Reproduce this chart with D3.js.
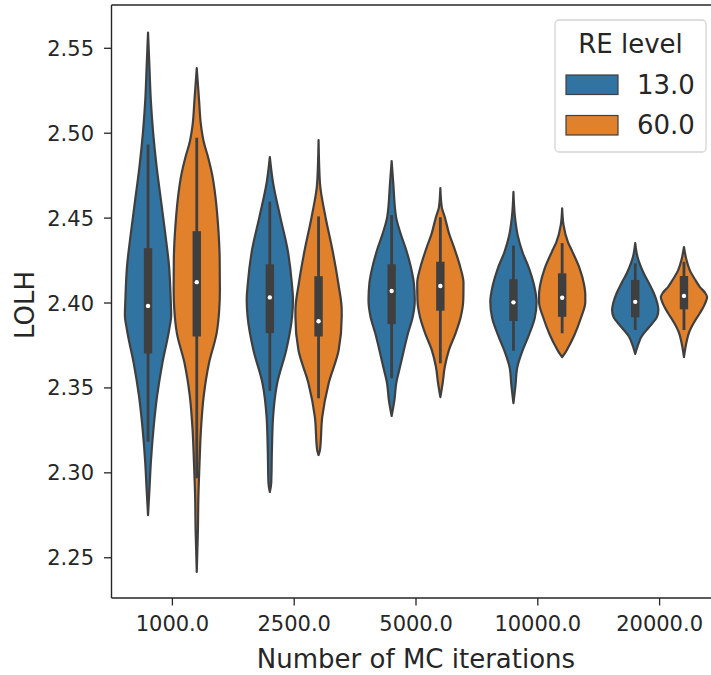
<!DOCTYPE html>
<html>
<head>
<meta charset="utf-8">
<script src="https://cdn.jsdelivr.net/npm/d3@7"></script>
<style>
  html, body { margin: 0; padding: 0; background: #ffffff; }
  svg { display: block; font-family: "DejaVu Sans", sans-serif; }
</style>
</head>
<body>
<svg id="chart" width="711" height="675"></svg>
<script>
// Categories and hue levels
const iterations = ["1000.0", "2500.0", "5000.0", "10000.0", "20000.0"];
const reLevels = ["13.0", "60.0"];
const yTicks = [2.25, 2.30, 2.35, 2.40, 2.45, 2.50, 2.55];

// Box summaries per iteration count: [whiskerLow, q1, median, q3, whiskerHigh]
const boxRE13 = [
  [2.318, 2.370, 2.398, 2.432, 2.493],
  [2.348, 2.382, 2.403, 2.4225, 2.4594],
  [2.3554, 2.3873, 2.4068, 2.4225, 2.4515],
  [2.3716, 2.3891, 2.4001, 2.4137, 2.4335],
  [2.3838, 2.3913, 2.4004, 2.4133, 2.4231]
];
const boxRE60 = [
  [2.2965, 2.380, 2.412, 2.442, 2.497],
  [2.3436, 2.380, 2.389, 2.4155, 2.4507],
  [2.3642, 2.3952, 2.4097, 2.424, 2.4502],
  [2.3819, 2.3916, 2.4028, 2.4172, 2.435],
  [2.3838, 2.396, 2.4039, 2.4156, 2.424]
];

// Density outlines per iteration count: [LOLH, relative density (peak = 1)]
const densityRE13 = [
  [[2.559,0],[2.539,.06],[2.519,.12],[2.500,.22],[2.480,.37],[2.460,.56],[2.441,.74],[2.421,.91],[2.4015,.98],[2.3926,1],[2.3838,.91],[2.3644,.62],[2.3449,.39],[2.3249,.23],[2.3055,.12],[2.2896,.06],[2.2748,0]],
  [[2.4857,0],[2.4704,.14],[2.4504,.45],[2.4309,.77],[2.4115,.95],[2.4015,1],[2.3915,.96],[2.372,.71],[2.3526,.32],[2.3326,.14],[2.3131,.09],[2.2937,.06],[2.2884,0]],
  [[2.4833,0],[2.4704,.07],[2.4504,.19],[2.4409,.38],[2.4309,.63],[2.4209,.83],[2.4115,.96],[2.4015,1],[2.3915,.91],[2.382,.71],[2.372,.53],[2.362,.36],[2.3526,.2],[2.3426,.12],[2.3332,0]],
  [[2.4651,0],[2.4498,.07],[2.4398,.18],[2.4297,.39],[2.4203,.67],[2.4103,.89],[2.4003,1],[2.3909,.92],[2.3809,.67],[2.3708,.37],[2.3614,.16],[2.3514,.09],[2.3408,0]],
  [[2.435,0],[2.4268,.1],[2.4233,.18],[2.4174,.36],[2.4115,.59],[2.4056,.8],[2.3997,.95],[2.3956,1],[2.3915,.94],[2.3856,.6],[2.3797,.26],[2.375,.12],[2.3697,0]]
];
const densityRE60 = [
  [[2.538,0],[2.519,.1],[2.5046,.18],[2.4947,.3],[2.485,.5],[2.475,.67],[2.4653,.78],[2.4456,.92],[2.426,.99],[2.4074,1],[2.3956,.97],[2.382,.86],[2.3644,.53],[2.3449,.30],[2.3249,.18],[2.3055,.12],[2.2854,.07],[2.266,.05],[2.2413,0]],
  [[2.4957,0],[2.4704,.06],[2.4504,.3],[2.4309,.6],[2.4115,.85],[2.3956,1],[2.3915,1],[2.372,.87],[2.3526,.44],[2.3326,.16],[2.3131,.06],[2.3102,0]],
  [[2.4674,0],[2.4562,.06],[2.4504,.19],[2.4409,.37],[2.4309,.63],[2.4209,.86],[2.4115,1],[2.4015,.99],[2.3915,.88],[2.382,.66],[2.372,.37],[2.362,.19],[2.3526,.1],[2.3443,0]],
  [[2.4555,0],[2.4456,.06],[2.4356,.25],[2.4297,.45],[2.4203,.75],[2.4103,.95],[2.4044,1],[2.4003,1],[2.3909,.81],[2.3809,.53],[2.375,.32],[2.3708,.15],[2.3679,0]],
  [[2.4327,0],[2.425,.11],[2.4191,.25],[2.4133,.49],[2.4091,.69],[2.4056,.92],[2.4032,1],[2.3997,.92],[2.3938,.69],[2.3879,.42],[2.382,.21],[2.3779,.13],[2.3679,0]]
];

const hueColors = ["#3274a1", "#e1812c"];
const ink = "#3f3f3f";
const textColor = "#262626";

const svg = d3.select("#chart");
const plot = { left: 111.5, top: 5, bottom: 598, step: 121.8 };

const x = d3.scaleBand()
  .domain(iterations)
  .range([plot.left, plot.left + plot.step * iterations.length])
  .padding(0);
const hue = d3.scaleBand().domain(reLevels).range([-0.4, 0.4]).padding(0);
const y = d3.scaleLinear().domain([2.226, 2.5752]).range([plot.bottom, plot.top]);

const bw = x.bandwidth();
const maxHalf = 0.19 * bw;
const centerOf = (cat, lvl) => x(cat) + bw / 2 + (hue(lvl) + hue.bandwidth() / 2) * bw;

// Violins, each with its inner box
const groups = [
  { level: reLevels[0], density: densityRE13, box: boxRE13, color: hueColors[0] },
  { level: reLevels[1], density: densityRE60, box: boxRE60, color: hueColors[1] }
];

const gViolins = svg.append("g");
iterations.forEach((cat, i) => {
  groups.forEach(g => {
    const cx = centerOf(cat, g.level);
    const area = d3.area()
      .curve(d3.curveMonotoneY)
      .y(d => y(d[0]))
      .x0(d => cx - d[1] * maxHalf)
      .x1(d => cx + d[1] * maxHalf);
    gViolins.append("path")
      .attr("d", area(g.density[i]))
      .attr("fill", g.color)
      .attr("stroke", ink)
      .attr("stroke-width", 2.2)
      .attr("stroke-linejoin", "round");

    const [wlo, q1, med, q3, whi] = g.box[i];
    gViolins.append("line")
      .attr("x1", cx).attr("x2", cx)
      .attr("y1", y(wlo)).attr("y2", y(whi))
      .attr("stroke", ink).attr("stroke-width", 2.8);
    gViolins.append("rect")
      .attr("x", cx - 4.2).attr("width", 8.4)
      .attr("y", y(q3)).attr("height", y(q1) - y(q3))
      .attr("fill", ink);
    gViolins.append("circle")
      .attr("cx", cx).attr("cy", y(med)).attr("r", 2.2)
      .attr("fill", "#ffffff");
  });
});

// Axes
const yAxis = d3.axisLeft(y)
  .tickValues(yTicks)
  .tickFormat(d3.format(".2f"))
  .tickSize(7.5)
  .tickPadding(10);
const gy = svg.append("g").attr("transform", `translate(${plot.left},0)`).call(yAxis);
gy.select(".domain").remove();
gy.selectAll(".tick line").attr("stroke", textColor).attr("stroke-width", 1.3);
gy.selectAll(".tick text")
  .attr("fill", textColor)
  .attr("font-size", 21)
  .attr("font-family", "DejaVu Sans")
  .attr("dy", "0.36em");

const xAxis = d3.axisBottom(x).tickSize(7.5).tickPadding(11);
const gx = svg.append("g").attr("transform", `translate(0,${plot.bottom})`).call(xAxis);
gx.select(".domain").remove();
gx.selectAll(".tick line").attr("stroke", textColor).attr("stroke-width", 1.3);
gx.selectAll(".tick text")
  .attr("fill", textColor)
  .attr("font-size", 21)
  .attr("font-family", "DejaVu Sans");

// Spines
const right = plot.left + plot.step * iterations.length;
const spines = svg.append("g").attr("stroke", textColor).attr("stroke-width", 1.4).attr("fill", "none");
spines.append("line").attr("x1", plot.left).attr("x2", plot.left).attr("y1", plot.top).attr("y2", plot.bottom);
spines.append("line").attr("x1", plot.left).attr("x2", right).attr("y1", plot.bottom).attr("y2", plot.bottom);
spines.append("line").attr("x1", plot.left).attr("x2", right).attr("y1", plot.top).attr("y2", plot.top);
spines.append("line").attr("x1", right).attr("x2", right).attr("y1", plot.top).attr("y2", plot.bottom);

// Axis titles
svg.append("text")
  .attr("x", (plot.left + right) / 2)
  .attr("y", 667.5)
  .attr("text-anchor", "middle")
  .attr("font-size", 26)
  .attr("fill", textColor)
  .text("Number of MC iterations");

svg.append("text")
  .attr("transform", "translate(33.5,305) rotate(-90)")
  .attr("text-anchor", "middle")
  .attr("font-size", 26)
  .attr("fill", textColor)
  .text("LOLH");

// Legend
const legend = svg.append("g");
legend.append("rect")
  .attr("x", 555).attr("y", 20)
  .attr("width", 151).attr("height", 132)
  .attr("rx", 4).attr("ry", 4)
  .attr("fill", "#ffffff")
  .attr("fill-opacity", 0.8)
  .attr("stroke", "#d4d4d4")
  .attr("stroke-width", 1.3);
legend.append("text")
  .attr("x", 630.5).attr("y", 52.5)
  .attr("text-anchor", "middle")
  .attr("font-size", 26)
  .attr("fill", textColor)
  .text("RE level");
reLevels.forEach((lvl, i) => {
  const top = 75 + i * 40.5;
  legend.append("rect")
    .attr("x", 566).attr("y", top)
    .attr("width", 52).attr("height", 19.5)
    .attr("fill", hueColors[i])
    .attr("stroke", ink)
    .attr("stroke-width", 1.2);
  legend.append("text")
    .attr("x", 637).attr("y", top + 18.5)
    .attr("font-size", 26)
    .attr("fill", textColor)
    .text(lvl);
});
</script>
</body>
</html>
